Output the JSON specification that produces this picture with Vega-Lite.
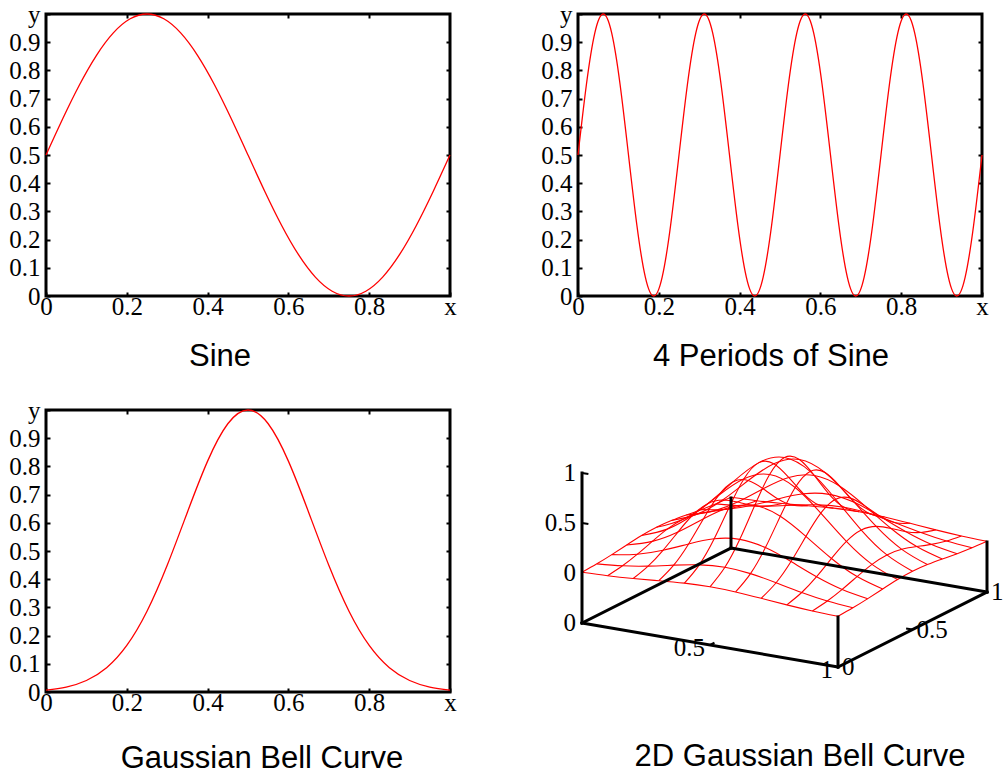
{
"$schema": "https://vega.github.io/schema/vega-lite/v6.json",
"background": "white",
"padding": {"left": 7, "top": 0, "right": 0, "bottom": 4},
"config": {
 "view": {"stroke": "black", "strokeWidth": 3},
 "axis": {"domain": false, "grid": false, "tickColor": "black", "tickWidth": 2, "tickSize": -4, "labelFont": "Liberation Serif", "labelFontSize": 25, "labelColor": "black", "labelFlush": false, "labelOverlap": false},
 "axisX": {"labelPadding": 2},
 "axisY": {"labelPadding": 10},
 "title": {"font": "Liberation Sans", "fontSize": 31, "fontWeight": "normal", "color": "black", "orient": "bottom", "anchor": "middle", "frame": "group"}
},
"datasets": {
 "sine": [{"x":0,"y":0.5},{"x":0.041667,"y":0.62941},{"x":0.083333,"y":0.75},{"x":0.125,"y":0.85355},{"x":0.166667,"y":0.93301},{"x":0.208333,"y":0.98296},{"x":0.25,"y":1},{"x":0.291667,"y":0.98296},{"x":0.333333,"y":0.93301},{"x":0.375,"y":0.85355},{"x":0.416667,"y":0.75},{"x":0.458333,"y":0.62941},{"x":0.5,"y":0.5},{"x":0.541667,"y":0.37059},{"x":0.583333,"y":0.25},{"x":0.625,"y":0.14645},{"x":0.666667,"y":0.06699},{"x":0.708333,"y":0.01704},{"x":0.75,"y":0},{"x":0.791667,"y":0.01704},{"x":0.833333,"y":0.06699},{"x":0.875,"y":0.14645},{"x":0.916667,"y":0.25},{"x":0.958333,"y":0.37059},{"x":1,"y":0.5}],
 "sine4": [{"x":0,"y":0.5},{"x":0.020833,"y":0.75},{"x":0.041667,"y":0.93301},{"x":0.0625,"y":1},{"x":0.083333,"y":0.93301},{"x":0.104167,"y":0.75},{"x":0.125,"y":0.5},{"x":0.145833,"y":0.25},{"x":0.166667,"y":0.06699},{"x":0.1875,"y":0},{"x":0.208333,"y":0.06699},{"x":0.229167,"y":0.25},{"x":0.25,"y":0.5},{"x":0.270833,"y":0.75},{"x":0.291667,"y":0.93301},{"x":0.3125,"y":1},{"x":0.333333,"y":0.93301},{"x":0.354167,"y":0.75},{"x":0.375,"y":0.5},{"x":0.395833,"y":0.25},{"x":0.416667,"y":0.06699},{"x":0.4375,"y":0},{"x":0.458333,"y":0.06699},{"x":0.479167,"y":0.25},{"x":0.5,"y":0.5},{"x":0.520833,"y":0.75},{"x":0.541667,"y":0.93301},{"x":0.5625,"y":1},{"x":0.583333,"y":0.93301},{"x":0.604167,"y":0.75},{"x":0.625,"y":0.5},{"x":0.645833,"y":0.25},{"x":0.666667,"y":0.06699},{"x":0.6875,"y":0},{"x":0.708333,"y":0.06699},{"x":0.729167,"y":0.25},{"x":0.75,"y":0.5},{"x":0.770833,"y":0.75},{"x":0.791667,"y":0.93301},{"x":0.8125,"y":1},{"x":0.833333,"y":0.93301},{"x":0.854167,"y":0.75},{"x":0.875,"y":0.5},{"x":0.895833,"y":0.25},{"x":0.916667,"y":0.06699},{"x":0.9375,"y":0},{"x":0.958333,"y":0.06699},{"x":0.979167,"y":0.25},{"x":1,"y":0.5}],
 "gauss": [{"x":0,"y":0.00674},{"x":0.05,"y":0.01742},{"x":0.1,"y":0.04076},{"x":0.15,"y":0.08629},{"x":0.2,"y":0.1653},{"x":0.25,"y":0.2865},{"x":0.3,"y":0.44933},{"x":0.35,"y":0.63763},{"x":0.4,"y":0.81873},{"x":0.45,"y":0.95123},{"x":0.5,"y":1},{"x":0.55,"y":0.95123},{"x":0.6,"y":0.81873},{"x":0.65,"y":0.63763},{"x":0.7,"y":0.44933},{"x":0.75,"y":0.2865},{"x":0.8,"y":0.1653},{"x":0.85,"y":0.08629},{"x":0.9,"y":0.04076},{"x":0.95,"y":0.01742},{"x":1,"y":0.00674}],
 "grid": [
 {"u":0,"v":0,"z":0.0067},{"u":0,"v":0.1,"z":0.0166},{"u":0,"v":0.2,"z":0.0334},{"u":0,"v":0.3,"z":0.055},{"u":0,"v":0.4,"z":0.0743},{"u":0,"v":0.5,"z":0.0821},{"u":0,"v":0.6,"z":0.0743},{"u":0,"v":0.7,"z":0.055},{"u":0,"v":0.8,"z":0.0334},{"u":0,"v":0.9,"z":0.0166},{"u":0,"v":1,"z":0.0067},
 {"u":0.1,"v":0,"z":0.0166},{"u":0.1,"v":0.1,"z":0.0408},{"u":0.1,"v":0.2,"z":0.0821},{"u":0.1,"v":0.3,"z":0.1353},{"u":0.1,"v":0.4,"z":0.1827},{"u":0.1,"v":0.5,"z":0.2019},{"u":0.1,"v":0.6,"z":0.1827},{"u":0.1,"v":0.7,"z":0.1353},{"u":0.1,"v":0.8,"z":0.0821},{"u":0.1,"v":0.9,"z":0.0408},{"u":0.1,"v":1,"z":0.0166},
 {"u":0.2,"v":0,"z":0.0334},{"u":0.2,"v":0.1,"z":0.0821},{"u":0.2,"v":0.2,"z":0.1653},{"u":0.2,"v":0.3,"z":0.2725},{"u":0.2,"v":0.4,"z":0.3679},{"u":0.2,"v":0.5,"z":0.4066},{"u":0.2,"v":0.6,"z":0.3679},{"u":0.2,"v":0.7,"z":0.2725},{"u":0.2,"v":0.8,"z":0.1653},{"u":0.2,"v":0.9,"z":0.0821},{"u":0.2,"v":1,"z":0.0334},
 {"u":0.3,"v":0,"z":0.055},{"u":0.3,"v":0.1,"z":0.1353},{"u":0.3,"v":0.2,"z":0.2725},{"u":0.3,"v":0.3,"z":0.4493},{"u":0.3,"v":0.4,"z":0.6065},{"u":0.3,"v":0.5,"z":0.6703},{"u":0.3,"v":0.6,"z":0.6065},{"u":0.3,"v":0.7,"z":0.4493},{"u":0.3,"v":0.8,"z":0.2725},{"u":0.3,"v":0.9,"z":0.1353},{"u":0.3,"v":1,"z":0.055},
 {"u":0.4,"v":0,"z":0.0743},{"u":0.4,"v":0.1,"z":0.1827},{"u":0.4,"v":0.2,"z":0.3679},{"u":0.4,"v":0.3,"z":0.6065},{"u":0.4,"v":0.4,"z":0.8187},{"u":0.4,"v":0.5,"z":0.9048},{"u":0.4,"v":0.6,"z":0.8187},{"u":0.4,"v":0.7,"z":0.6065},{"u":0.4,"v":0.8,"z":0.3679},{"u":0.4,"v":0.9,"z":0.1827},{"u":0.4,"v":1,"z":0.0743},
 {"u":0.5,"v":0,"z":0.0821},{"u":0.5,"v":0.1,"z":0.2019},{"u":0.5,"v":0.2,"z":0.4066},{"u":0.5,"v":0.3,"z":0.6703},{"u":0.5,"v":0.4,"z":0.9048},{"u":0.5,"v":0.5,"z":1},{"u":0.5,"v":0.6,"z":0.9048},{"u":0.5,"v":0.7,"z":0.6703},{"u":0.5,"v":0.8,"z":0.4066},{"u":0.5,"v":0.9,"z":0.2019},{"u":0.5,"v":1,"z":0.0821},
 {"u":0.6,"v":0,"z":0.0743},{"u":0.6,"v":0.1,"z":0.1827},{"u":0.6,"v":0.2,"z":0.3679},{"u":0.6,"v":0.3,"z":0.6065},{"u":0.6,"v":0.4,"z":0.8187},{"u":0.6,"v":0.5,"z":0.9048},{"u":0.6,"v":0.6,"z":0.8187},{"u":0.6,"v":0.7,"z":0.6065},{"u":0.6,"v":0.8,"z":0.3679},{"u":0.6,"v":0.9,"z":0.1827},{"u":0.6,"v":1,"z":0.0743},
 {"u":0.7,"v":0,"z":0.055},{"u":0.7,"v":0.1,"z":0.1353},{"u":0.7,"v":0.2,"z":0.2725},{"u":0.7,"v":0.3,"z":0.4493},{"u":0.7,"v":0.4,"z":0.6065},{"u":0.7,"v":0.5,"z":0.6703},{"u":0.7,"v":0.6,"z":0.6065},{"u":0.7,"v":0.7,"z":0.4493},{"u":0.7,"v":0.8,"z":0.2725},{"u":0.7,"v":0.9,"z":0.1353},{"u":0.7,"v":1,"z":0.055},
 {"u":0.8,"v":0,"z":0.0334},{"u":0.8,"v":0.1,"z":0.0821},{"u":0.8,"v":0.2,"z":0.1653},{"u":0.8,"v":0.3,"z":0.2725},{"u":0.8,"v":0.4,"z":0.3679},{"u":0.8,"v":0.5,"z":0.4066},{"u":0.8,"v":0.6,"z":0.3679},{"u":0.8,"v":0.7,"z":0.2725},{"u":0.8,"v":0.8,"z":0.1653},{"u":0.8,"v":0.9,"z":0.0821},{"u":0.8,"v":1,"z":0.0334},
 {"u":0.9,"v":0,"z":0.0166},{"u":0.9,"v":0.1,"z":0.0408},{"u":0.9,"v":0.2,"z":0.0821},{"u":0.9,"v":0.3,"z":0.1353},{"u":0.9,"v":0.4,"z":0.1827},{"u":0.9,"v":0.5,"z":0.2019},{"u":0.9,"v":0.6,"z":0.1827},{"u":0.9,"v":0.7,"z":0.1353},{"u":0.9,"v":0.8,"z":0.0821},{"u":0.9,"v":0.9,"z":0.0408},{"u":0.9,"v":1,"z":0.0166},
 {"u":1,"v":0,"z":0.0067},{"u":1,"v":0.1,"z":0.0166},{"u":1,"v":0.2,"z":0.0334},{"u":1,"v":0.3,"z":0.055},{"u":1,"v":0.4,"z":0.0743},{"u":1,"v":0.5,"z":0.0821},{"u":1,"v":0.6,"z":0.0743},{"u":1,"v":0.7,"z":0.055},{"u":1,"v":0.8,"z":0.0334},{"u":1,"v":0.9,"z":0.0166},{"u":1,"v":1,"z":0.0067}
 ],
 "box": [
 {"seg":"a","u":0,"v":0,"z":-0.5},{"seg":"a","u":1,"v":0,"z":-0.5},
 {"seg":"b","u":1,"v":0,"z":-0.5},{"seg":"b","u":1,"v":1,"z":-0.5},
 {"seg":"c","u":0,"v":0,"z":-0.5},{"seg":"c","u":0,"v":1,"z":-0.5},
 {"seg":"d","u":0,"v":1,"z":-0.5},{"seg":"d","u":1,"v":1,"z":-0.5},
 {"seg":"e","u":0,"v":0,"z":-0.5},{"seg":"e","u":0,"v":0,"z":1},
 {"seg":"f","u":1,"v":0,"z":-0.5},{"seg":"f","u":1,"v":0,"z":0},
 {"seg":"g","u":1,"v":1,"z":-0.5},{"seg":"g","u":1,"v":1,"z":0},
 {"seg":"h","u":0,"v":1,"z":-0.5},{"seg":"h","u":0,"v":1,"z":0}
 ],
 "ticks3d": [
 {"seg":"t1","u":0,"v":0,"z":1},{"seg":"t1","u":0.025,"v":0,"z":1},
 {"seg":"t2","u":0,"v":0,"z":0.5},{"seg":"t2","u":0.025,"v":0,"z":0.5},
 {"seg":"t3","u":0.5,"v":0,"z":-0.5},{"seg":"t3","u":0.5,"v":0.03,"z":-0.5},
 {"seg":"t4","u":1,"v":0.5,"z":-0.5},{"seg":"t4","u":0.975,"v":0.5,"z":-0.5}
 ],
 "zlab": [{"u":0,"v":0,"z":1,"t":"1"},{"u":0,"v":0,"z":0.5,"t":"0.5"},{"u":0,"v":0,"z":0,"t":"0"},{"u":0,"v":0,"z":-0.5,"t":"0"}],
 "xlab": [{"u":0.5,"v":0,"z":-0.5,"t":"0.5"},{"u":1,"v":0,"z":-0.5,"t":"1"}],
 "ylab": [{"u":1,"v":0,"z":-0.5,"t":"0"},{"u":1,"v":0.5,"z":-0.5,"t":"0.5"},{"u":1,"v":1,"z":-0.5,"t":"1"}]
},
"concat": [
 {
  "width": 404, "height": 282,
  "title": {"text": "Sine", "offset": 23, "dx": -28},
  "data": {"name": "sine"},
  "layer": [
   {"mark": {"type": "line", "color": "#ff0000", "strokeWidth": 1.3, "interpolate": "natural"},
    "encoding": {
     "x": {"field": "x", "type": "quantitative", "scale": {"domain": [0, 1], "nice": false, "zero": false}, "axis": {"orient": "bottom", "title": null, "values": [0, 0.2, 0.4, 0.6, 0.8, 1], "format": ".1~f", "labelExpr": "datum.value == 1 ? 'x' : datum.label"}},
     "y": {"field": "y", "type": "quantitative", "scale": {"domain": [0, 1], "nice": false, "zero": false}, "axis": {"orient": "left", "title": null, "values": [0, 0.1, 0.2, 0.3, 0.4, 0.5, 0.6, 0.7, 0.8, 0.9, 1], "format": ".1~f", "labelExpr": "datum.value == 1 ? 'y' : datum.label"}}}},
   {"mark": {"type": "line", "strokeOpacity": 0},
    "encoding": {
     "x": {"field": "x", "type": "quantitative", "axis": {"orient": "top", "title": null, "labels": false, "values": [0.2, 0.4, 0.6, 0.8]}},
     "y": {"field": "y", "type": "quantitative", "axis": {"orient": "right", "title": null, "labels": false, "values": [0.1, 0.2, 0.3, 0.4, 0.5, 0.6, 0.7, 0.8, 0.9]}}}}
  ],
  "resolve": {"axis": {"x": "independent", "y": "independent"}}
 },
 {
  "width": 404, "height": 282,
  "title": {"text": "4 Periods of Sine", "offset": 23, "dx": -9},
  "data": {"name": "sine4"},
  "layer": [
   {"mark": {"type": "line", "color": "#ff0000", "strokeWidth": 1.3, "interpolate": "natural"},
    "encoding": {
     "x": {"field": "x", "type": "quantitative", "scale": {"domain": [0, 1], "nice": false, "zero": false}, "axis": {"orient": "bottom", "title": null, "values": [0, 0.2, 0.4, 0.6, 0.8, 1], "format": ".1~f", "labelExpr": "datum.value == 1 ? 'x' : datum.label"}},
     "y": {"field": "y", "type": "quantitative", "scale": {"domain": [0, 1], "nice": false, "zero": false}, "axis": {"orient": "left", "title": null, "values": [0, 0.1, 0.2, 0.3, 0.4, 0.5, 0.6, 0.7, 0.8, 0.9, 1], "format": ".1~f", "labelExpr": "datum.value == 1 ? 'y' : datum.label"}}}},
   {"mark": {"type": "line", "strokeOpacity": 0},
    "encoding": {
     "x": {"field": "x", "type": "quantitative", "axis": {"orient": "top", "title": null, "labels": false, "values": [0.2, 0.4, 0.6, 0.8]}},
     "y": {"field": "y", "type": "quantitative", "axis": {"orient": "right", "title": null, "labels": false, "values": [0.1, 0.2, 0.3, 0.4, 0.5, 0.6, 0.7, 0.8, 0.9]}}}}
  ],
  "resolve": {"axis": {"x": "independent", "y": "independent"}}
 },
 {
  "width": 404, "height": 282,
  "title": {"text": "Gaussian Bell Curve", "offset": 29, "dx": 14},
  "data": {"name": "gauss"},
  "layer": [
   {"mark": {"type": "line", "color": "#ff0000", "strokeWidth": 1.3, "interpolate": "natural"},
    "encoding": {
     "x": {"field": "x", "type": "quantitative", "scale": {"domain": [0, 1], "nice": false, "zero": false}, "axis": {"orient": "bottom", "title": null, "values": [0, 0.2, 0.4, 0.6, 0.8, 1], "format": ".1~f", "labelExpr": "datum.value == 1 ? 'x' : datum.label"}},
     "y": {"field": "y", "type": "quantitative", "scale": {"domain": [0, 1], "nice": false, "zero": false}, "axis": {"orient": "left", "title": null, "values": [0, 0.1, 0.2, 0.3, 0.4, 0.5, 0.6, 0.7, 0.8, 0.9, 1], "format": ".1~f", "labelExpr": "datum.value == 1 ? 'y' : datum.label"}}}},
   {"mark": {"type": "line", "strokeOpacity": 0},
    "encoding": {
     "x": {"field": "x", "type": "quantitative", "axis": {"orient": "top", "title": null, "labels": false, "values": [0.2, 0.4, 0.6, 0.8]}},
     "y": {"field": "y", "type": "quantitative", "axis": {"orient": "right", "title": null, "labels": false, "values": [0.1, 0.2, 0.3, 0.4, 0.5, 0.6, 0.7, 0.8, 0.9]}}}}
  ],
  "resolve": {"axis": {"x": "independent", "y": "independent"}}
 },
 {
  "width": 426, "height": 282,
  "view": {"stroke": null},
  "title": {"text": "2D Gaussian Bell Curve", "offset": 50, "dx": 9},
  "layer": [
   {"data": {"name": "grid"},
    "transform": [{"calculate": "256*datum.u+149*datum.v", "as": "sx"}, {"calculate": "-44*datum.u+75*datum.v+100*datum.z", "as": "h"}],
    "mark": {"type": "line", "color": "#ff0000", "strokeWidth": 1.1, "interpolate": "natural"},
    "encoding": {
     "x": {"field": "sx", "type": "quantitative", "scale": {"domain": [-4, 422], "nice": false, "zero": false}, "axis": null},
     "y": {"field": "h", "type": "quantitative", "scale": {"domain": [-119, 163], "nice": false, "zero": false}, "axis": null},
     "detail": {"field": "v", "type": "nominal"},
     "order": {"field": "u", "type": "quantitative"}}},
   {"data": {"name": "grid"},
    "transform": [{"calculate": "256*datum.u+149*datum.v", "as": "sx"}, {"calculate": "-44*datum.u+75*datum.v+100*datum.z", "as": "h"}],
    "mark": {"type": "line", "color": "#ff0000", "strokeWidth": 1.1, "interpolate": "natural"},
    "encoding": {
     "x": {"field": "sx", "type": "quantitative", "scale": {"domain": [-4, 422], "nice": false, "zero": false}, "axis": null},
     "y": {"field": "h", "type": "quantitative", "scale": {"domain": [-119, 163], "nice": false, "zero": false}, "axis": null},
     "detail": {"field": "u", "type": "nominal"},
     "order": {"field": "v", "type": "quantitative"}}},
   {"data": {"name": "box"},
    "transform": [{"calculate": "256*datum.u+149*datum.v", "as": "sx"}, {"calculate": "-44*datum.u+75*datum.v+100*datum.z", "as": "h"}],
    "mark": {"type": "line", "color": "black", "strokeWidth": 3, "strokeCap": "square"},
    "encoding": {
     "x": {"field": "sx", "type": "quantitative", "scale": {"domain": [-4, 422], "nice": false, "zero": false}, "axis": null},
     "y": {"field": "h", "type": "quantitative", "scale": {"domain": [-119, 163], "nice": false, "zero": false}, "axis": null},
     "detail": {"field": "seg", "type": "nominal"}}},
   {"data": {"name": "ticks3d"},
    "transform": [{"calculate": "256*datum.u+149*datum.v", "as": "sx"}, {"calculate": "-44*datum.u+75*datum.v+100*datum.z", "as": "h"}],
    "mark": {"type": "line", "color": "black", "strokeWidth": 2},
    "encoding": {
     "x": {"field": "sx", "type": "quantitative", "scale": {"domain": [-4, 422], "nice": false, "zero": false}, "axis": null},
     "y": {"field": "h", "type": "quantitative", "scale": {"domain": [-119, 163], "nice": false, "zero": false}, "axis": null},
     "detail": {"field": "seg", "type": "nominal"}}},
   {"data": {"name": "zlab"},
    "transform": [{"calculate": "256*datum.u+149*datum.v", "as": "sx"}, {"calculate": "-44*datum.u+75*datum.v+100*datum.z", "as": "h"}],
    "mark": {"type": "text", "align": "right", "baseline": "middle", "dx": -6, "font": "Liberation Serif", "fontSize": 25, "color": "black"},
    "encoding": {
     "x": {"field": "sx", "type": "quantitative", "scale": {"domain": [-4, 422], "nice": false, "zero": false}, "axis": null},
     "y": {"field": "h", "type": "quantitative", "scale": {"domain": [-119, 163], "nice": false, "zero": false}, "axis": null},
     "text": {"field": "t"}}},
   {"data": {"name": "xlab"},
    "transform": [{"calculate": "256*datum.u+149*datum.v", "as": "sx"}, {"calculate": "-44*datum.u+75*datum.v+100*datum.z", "as": "h"}],
    "mark": {"type": "text", "align": "right", "baseline": "middle", "dx": -5, "dy": 3, "font": "Liberation Serif", "fontSize": 25, "color": "black"},
    "encoding": {
     "x": {"field": "sx", "type": "quantitative", "scale": {"domain": [-4, 422], "nice": false, "zero": false}, "axis": null},
     "y": {"field": "h", "type": "quantitative", "scale": {"domain": [-119, 163], "nice": false, "zero": false}, "axis": null},
     "text": {"field": "t"}}},
   {"data": {"name": "ylab"},
    "transform": [{"calculate": "256*datum.u+149*datum.v", "as": "sx"}, {"calculate": "-44*datum.u+75*datum.v+100*datum.z", "as": "h"}],
    "mark": {"type": "text", "align": "left", "baseline": "middle", "dx": 4, "font": "Liberation Serif", "fontSize": 25, "color": "black"},
    "encoding": {
     "x": {"field": "sx", "type": "quantitative", "scale": {"domain": [-4, 422], "nice": false, "zero": false}, "axis": null},
     "y": {"field": "h", "type": "quantitative", "scale": {"domain": [-119, 163], "nice": false, "zero": false}, "axis": null},
     "text": {"field": "t"}}}
  ]
 }
],
"columns": 2,
"bounds": "flush",
"spacing": {"row": 114, "column": 128}
}
